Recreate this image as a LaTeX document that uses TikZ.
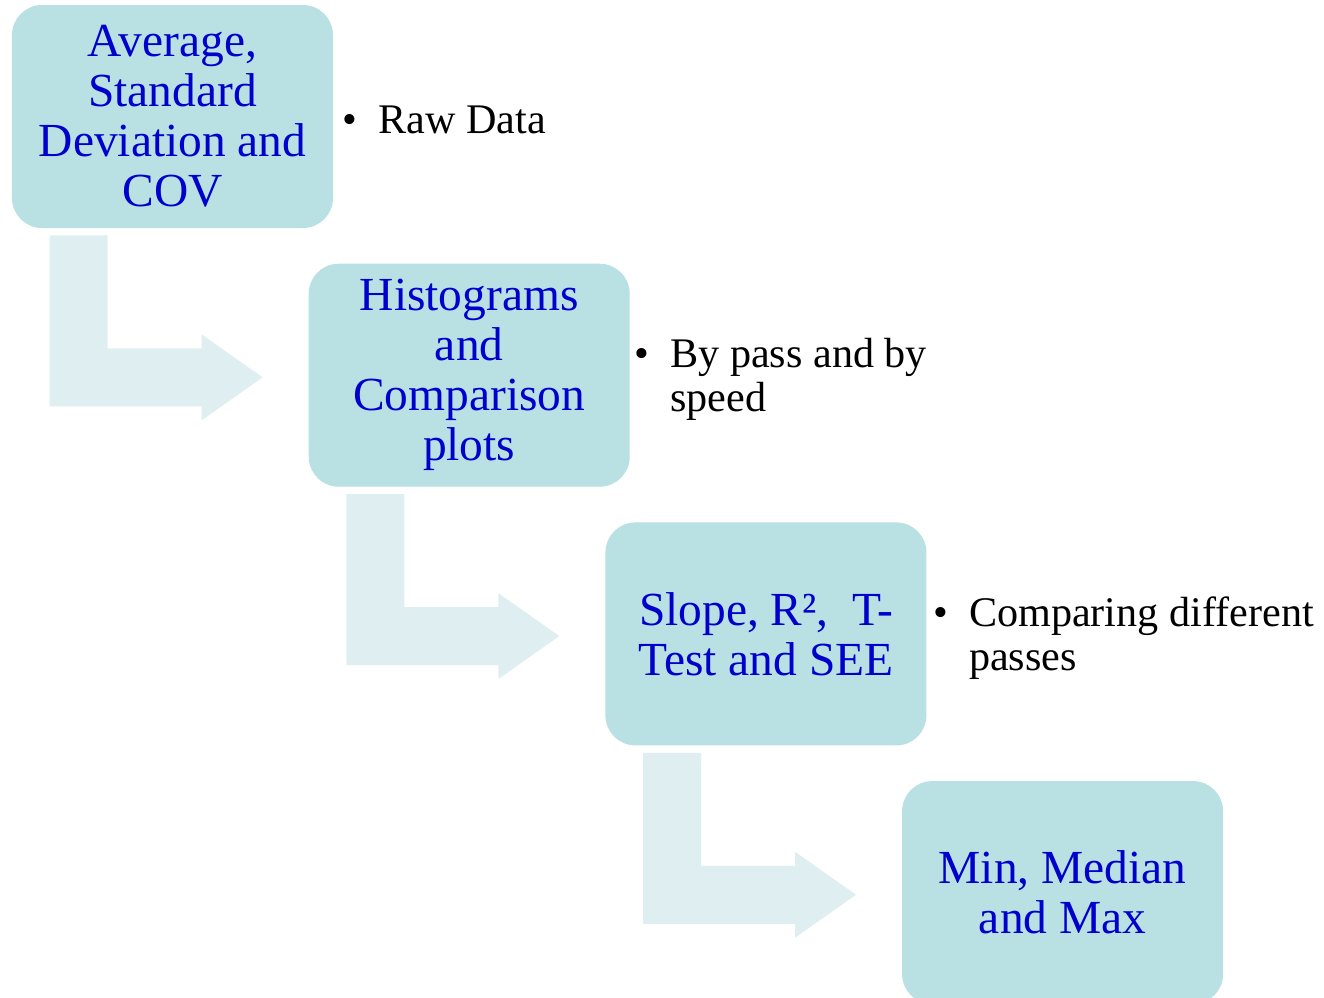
\documentclass[tikz,border=0pt]{standalone}
\usepackage{fontspec}
\setmainfont{Liberation Serif}
\usetikzlibrary{calc,positioning}
\definecolor{boxteal}{RGB}{185,224,227}
\definecolor{bendteal}{RGB}{223,239,241}
\definecolor{labelblue}{RGB}{0,0,204}

\begin{document}
\begin{tikzpicture}[
  stage/.style={rounded corners=0.6cm,fill=boxteal,align=center,
                minimum width=6.42cm,minimum height=4.46cm,inner sep=0pt,
                text=labelblue,font=\fontsize{27}{28.5}\selectfont},
  note/.style={anchor=base west,inner sep=0pt,
                font=\fontsize{24}{25}\selectfont},
  bendarrow/.style={fill=bendteal}
]
\useasboundingbox (0,0) rectangle (26.48,-19.94);

% --- Staircase of analysis steps ---
\node[stage] (avg) at (3.45,-2.33)
  {Average,\\Standard\\Deviation and\\COV};
\node[stage,below right=0.7cm and -0.5cm of avg] (hist)
  {Histograms\\and\\Comparison\\plots};
\node[stage,below right=0.7cm and -0.5cm of hist] (slope)
  {Slope, R², \ T-\\Test and SEE};
\node[stage,below right=0.7cm and -0.5cm of slope] (minmax)
  {Min, Median\\and Max};

% --- Bullet notes beside the steps ---
\node[note] (rawnote) at ($(avg.east)+(0.18,-0.33)$)
  {\begin{tabular}[t]{@{}p{0.72cm}@{}l@{}}\textbullet & Raw Data\end{tabular}};
\node[note] (passnote) at ($(hist.east)+(0.08,0.15)$)
  {\begin{tabular}[t]{@{}p{0.72cm}@{}l@{}}\textbullet & By pass and by\\ & speed\end{tabular}};
\node[note] (cmpnote) at ($(slope.east)+(0.12,0.15)$)
  {\begin{tabular}[t]{@{}p{0.72cm}@{}l@{}}\textbullet & Comparing different\\ & passes\end{tabular}};

% --- Bent arrows from each step down to the next ---
\foreach \from in {avg,hist,slope}
  \fill[bendarrow] ($(\from.south west)+(0.76,-0.14)$) -- ++(1.16,0) -- ++(0,-2.26)
    -- ++(1.88,0) -- ++(0,0.28) -- ++(1.22,-0.86) -- ++(-1.22,-0.86)
    -- ++(0,0.28) -- ++(-3.04,0) -- cycle;
\end{tikzpicture}
\end{document}
